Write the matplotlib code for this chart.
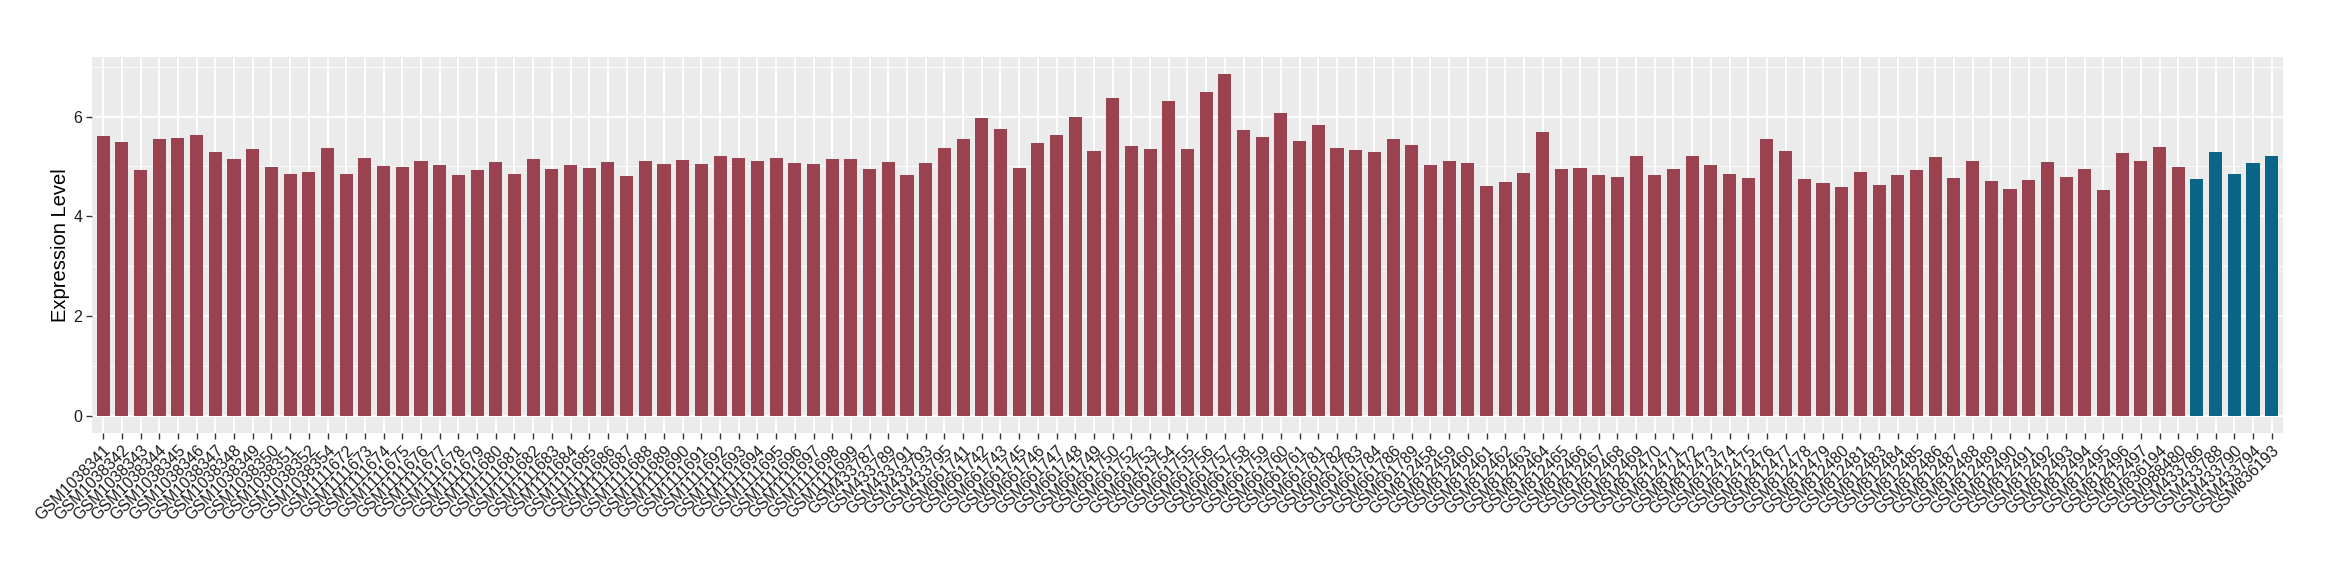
import matplotlib.pyplot as plt
from matplotlib.ticker import MultipleLocator

plt.rcParams['font.family'] = ['Liberation Sans', 'DejaVu Sans']

# sample ids (x axis), in plotting order
samples = (
    ['GSM10383%02d' % n for n in range(41, 53)] + ['GSM1038354']
    + ['GSM11116%02d' % n for n in range(72, 100)]
    + ['GSM433787', 'GSM433789', 'GSM433791', 'GSM433793', 'GSM433795']
    + ['GSM661741', 'GSM661742', 'GSM661743', 'GSM661745', 'GSM661746',
       'GSM661747', 'GSM661748', 'GSM661749', 'GSM661750', 'GSM661752',
       'GSM661753', 'GSM661754', 'GSM661755', 'GSM661756', 'GSM661757',
       'GSM661758', 'GSM661759', 'GSM661760', 'GSM661761', 'GSM661781',
       'GSM661782', 'GSM661783', 'GSM661784', 'GSM661786', 'GSM661789']
    + ['GSM8124%02d' % n for n in range(58, 82)]
    + ['GSM8124%02d' % n for n in range(83, 98)]
    + ['GSM836194', 'GSM988480']
    + ['GSM433786', 'GSM433788', 'GSM433790', 'GSM433794', 'GSM836193']
)

# expression values
expression = [
    5.61, 5.49, 4.93, 5.55, 5.57, 5.63, 5.29, 5.15, 5.35, 4.99, 4.85, 4.89, 5.37,
    4.85, 5.17, 5.01, 4.99, 5.11, 5.03, 4.83, 4.93, 5.09, 4.85, 5.15, 4.95, 5.03,
    4.97, 5.09, 4.81, 5.11, 5.05, 5.13, 5.05, 5.21, 5.17, 5.11, 5.17, 5.07, 5.05,
    5.15, 5.15,
    4.95, 5.09, 4.83, 5.07, 5.37,
    5.55, 5.97, 5.75, 4.97, 5.47, 5.63, 5.99, 5.31, 6.37, 5.41, 5.35, 6.31, 5.35,
    6.49, 6.85, 5.73, 5.59, 6.07, 5.51, 5.83, 5.37, 5.33, 5.29, 5.55, 5.43,
    5.03, 5.11, 5.07, 4.61, 4.69, 4.87, 5.69, 4.95, 4.97, 4.83, 4.79, 5.21, 4.83,
    4.95, 5.21, 5.03, 4.85, 4.77, 5.55, 5.31, 4.75, 4.67, 4.59, 4.89,
    4.63, 4.83, 4.93, 5.19, 4.77, 5.11, 4.71, 4.55, 4.73, 5.09, 4.79, 4.95, 4.53,
    5.27, 5.11,
    5.39, 4.99,
    4.75, 5.29, 4.85, 5.07, 5.21,
]

# which group each sample belongs to
group = ['other'] * (len(samples) - 5) + ['highlight'] * 5
group_colors = {'other': '#9A4250', 'highlight': '#0A6587'}

fig = plt.figure(figsize=(23.4, 5.8), dpi=100)
ax = fig.add_axes([0.0393, 0.2534, 0.9363, 0.6483])

x = list(range(1, len(samples) + 1))
ax.bar(x, expression, width=0.7, color=[group_colors[g] for g in group], zorder=3)

ymax = max(expression)
ax.set_ylim(-0.05 * ymax, ymax * 1.05)
ax.set_xlim(0.4, len(samples) + 0.6)

ax.set_facecolor('#EBEBEB')
for s in ax.spines.values():
    s.set_visible(False)
ax.yaxis.set_major_locator(MultipleLocator(2))
ax.yaxis.set_minor_locator(MultipleLocator(1))
ax.grid(which='major', color='white', linewidth=1.3, zorder=0)
ax.grid(which='minor', axis='y', color='white', linewidth=0.6, zorder=0)
ax.set_axisbelow(True)

ax.set_xticks(x)
ax.set_xticklabels(samples, rotation=45, ha='right', va='top',
                   rotation_mode='anchor', fontsize=11.5, color='#1A1A1A')
ax.tick_params(axis='x', length=4, width=1, color='#333333', pad=3)
ax.tick_params(axis='y', which='major', length=4, width=1, color='#333333',
               labelsize=11.5, labelcolor='#1A1A1A', pad=3)
ax.tick_params(axis='y', which='minor', length=0)

ax.set_ylabel('Expression Level', fontsize=14.5, color='black', labelpad=2)

fig.savefig('out.png', dpi=100)
